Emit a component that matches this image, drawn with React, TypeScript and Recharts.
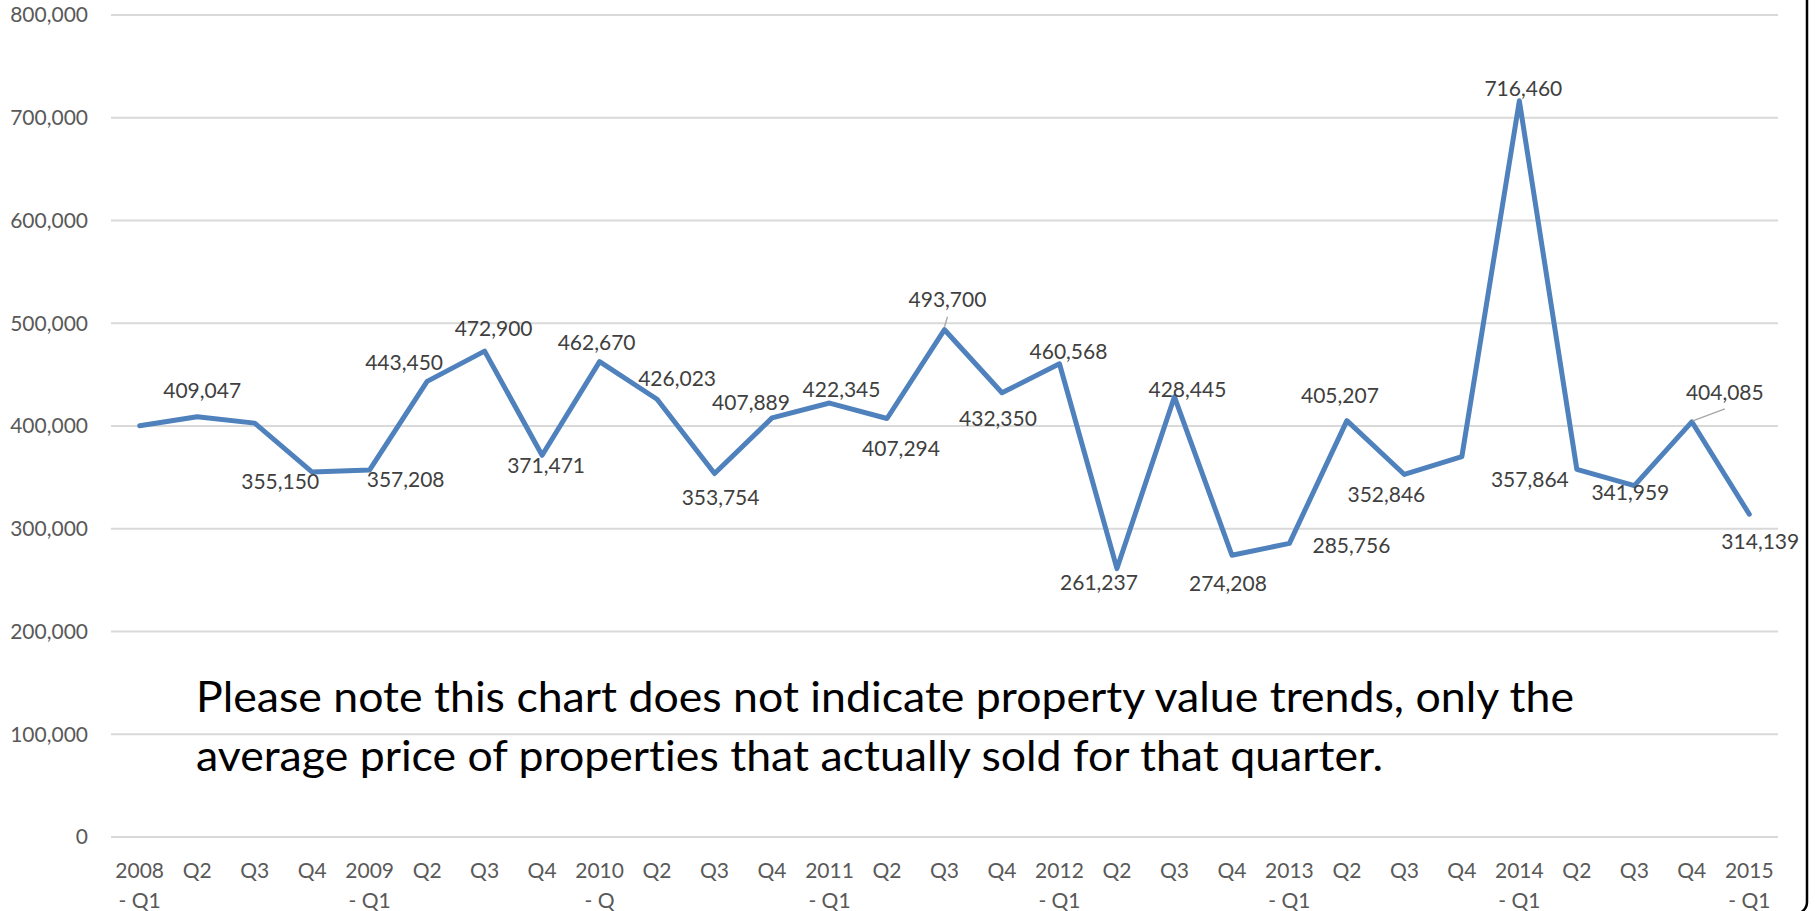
import React from 'react';
import { LineChart, Line, XAxis, YAxis, CartesianGrid, LabelList } from 'recharts';

// ---- data ----
const quarters: string[] = [
  '2008 - Q1', 'Q2', 'Q3', 'Q4',
  '2009 - Q1', 'Q2', 'Q3', 'Q4',
  '2010 - Q', 'Q2', 'Q3', 'Q4',
  '2011 - Q1', 'Q2', 'Q3', 'Q4',
  '2012 - Q1', 'Q2', 'Q3', 'Q4',
  '2013 - Q1', 'Q2', 'Q3', 'Q4',
  '2014 - Q1', 'Q2', 'Q3', 'Q4',
  '2015 - Q1',
];

const avgPrice: number[] = [
  400200, 409047, 402800, 355150,
  357208, 443450, 472900, 371471,
  462670, 426023, 353754, 407889,
  422345, 407294, 493700, 432350,
  460568, 261237, 428445, 274208,
  285756, 405207, 352846, 370300,
  716460, 357864, 341959, 404085,
  314139,
];

const yTicks: number[] = [0, 100000, 200000, 300000, 400000, 500000, 600000, 700000, 800000];

const noteLines: string[] = [
  'Please note this chart does not indicate property value trends, only the',
  'average price of properties that actually sold for that quarter.',
];

// ---- label styling (placement of each data label relative to its point) ----
const labelVisible: boolean[] = [
  false, true, false, true,
  true, true, true, true,
  true, true, true, true,
  true, true, true, true,
  true, true, true, true,
  true, true, true, false,
  true, true, true, true,
  true,
];
const labelShift: [number, number][] = [
  [0, 0], [5, -26], [0, 0], [-32, 9],
  [36, 10], [-23, -19], [9, -23], [4, 10],
  [-3, -19], [20, -21], [6, 24], [-21, -15],
  [12, -14], [14, 30], [3, -30], [-4, 26],
  [9, -12], [-18, 14], [13, -7], [-4, 28],
  [62, 2], [-7, -25], [-18, 20], [0, 0],
  [4, -12], [-47, 10], [-4, 7], [33, -29],
  [11, 27],
];
const leaderLines: Record<number, [number, number, number, number]> = {
  14: [0, -3, 3, -13],
  27: [1, -1, 33, -13],
};

const FONT = "Lato, 'Open Sans', sans-serif";
const LABEL_SIZE = 21;

const data = quarters.map((q, i) => ({ idx: i, quarter: q, price: avgPrice[i] }));

const fmt = (v: number) => v.toLocaleString('en-US');

const XTick = (props: any) => {
  const { x, y, payload } = props;
  const text = quarters[payload.value] ?? '';
  const parts = text.split(' - ');
  return (
    <g>
      <text x={x} y={y} textAnchor="middle" fontFamily={FONT} fontSize={LABEL_SIZE} fill="#595959">
        <tspan x={x} dy={41}>{parts[0]}</tspan>
        {parts.length > 1 ? <tspan x={x} dy={30}>{'- ' + parts[1]}</tspan> : null}
      </text>
    </g>
  );
};

const renderLabel = (props: any) => {
  const index: number = props.index;
  const px: number = props.x ?? props.viewBox?.x;
  const py: number = props.y ?? props.viewBox?.y;
  if (index == null || !labelVisible[index] || px == null || py == null) return null;
  const [dx, dy] = labelShift[index];
  const leader = leaderLines[index];
  return (
    <g key={`lbl-${index}`}>
      {leader ? (
        <line
          x1={px + leader[0]}
          y1={py + leader[1]}
          x2={px + leader[2]}
          y2={py + leader[3]}
          stroke="#a6a6a6"
          strokeWidth={1.3}
        />
      ) : null}
      <text
        x={px + dx}
        y={py + dy + 7.5}
        textAnchor="middle"
        fontFamily={FONT}
        fontSize={LABEL_SIZE}
        fill="#404040"
      >
        {fmt(Number(props.value))}
      </text>
    </g>
  );
};

export default function App() {
  return (
    <div style={{ position: 'absolute', left: 0, top: 0, width: 1816, height: 911, background: '#fff', overflow: 'hidden' }}>
      <LineChart
        width={1816}
        height={911}
        data={data}
        margin={{ top: 15, right: 38, bottom: 14, left: 11 }}
      >
        <CartesianGrid vertical={false} stroke="#d9d9d9" strokeWidth={2} />
        <XAxis
          dataKey="idx"
          type="category"
          interval={0}
          height={60}
          axisLine={false}
          tickLine={false}
          tickSize={0}
          tickMargin={0}
          padding={{ left: 28.7, right: 28.7 }}
          tick={<XTick />}
        />
        <YAxis
          width={100}
          domain={[0, 800000]}
          ticks={yTicks}
          interval={0}
          axisLine={false}
          tickLine={false}
          tickSize={0}
          tickMargin={23}
          tickFormatter={fmt}
          tick={{ fontFamily: FONT, fontSize: LABEL_SIZE, fill: '#595959' }}
        />
        <Line
          type="linear"
          dataKey="price"
          stroke="#4f81bd"
          strokeWidth={5}
          strokeLinejoin="round"
          strokeLinecap="round"
          dot={false}
          activeDot={false}
          isAnimationActive={false}
        >
          <LabelList dataKey="price" content={renderLabel} />
        </Line>
      </LineChart>
      <svg
        width={1816}
        height={911}
        style={{ position: 'absolute', left: 0, top: 0, pointerEvents: 'none', fontVariantLigatures: 'none' }}
      >
        <text x={196} y={712} fontFamily={FONT} fontSize={43} fill="#000" textLength={1378} lengthAdjust="spacingAndGlyphs" style={{ fontVariantLigatures: 'none' }}>
          {noteLines[0]}
        </text>
        <text x={196} y={770.5} fontFamily={FONT} fontSize={43} fill="#000" textLength={1187} lengthAdjust="spacingAndGlyphs" style={{ fontVariantLigatures: 'none' }}>
          {noteLines[1]}
        </text>
        <rect x={-20} y={-20} width={1827} height={934} rx={12} ry={12} fill="none" stroke="#000" strokeWidth={2.5} />
      </svg>
    </div>
  );
}
